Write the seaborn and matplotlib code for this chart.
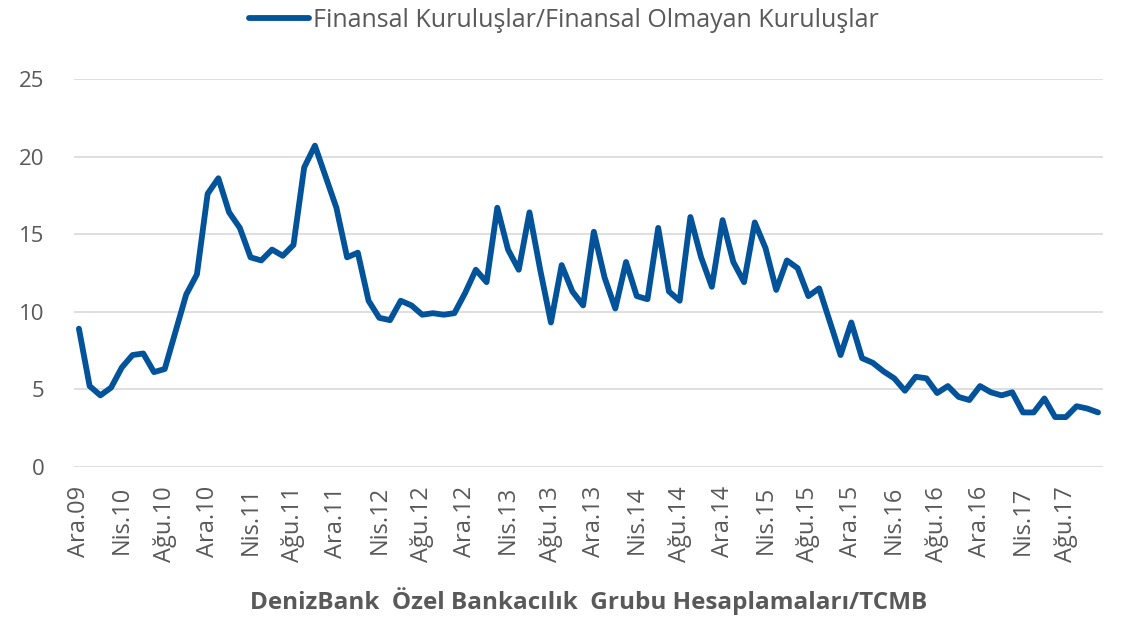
import pandas as pd
import matplotlib.pyplot as plt
import seaborn as sns

sns.set_style("white")
plt.rcParams['font.family'] = ['Open Sans', 'DejaVu Sans']

aylar = ['Oca', 'Şub', 'Mar', 'Nis', 'May', 'Haz', 'Tem', 'Ağu', 'Eyl', 'Eki', 'Kas', 'Ara']

# Aralık 2009 - Kasım 2017, aylık
donemler = ['Ara.09'] + [f'{a}.{y:02d}' for y in range(10, 18) for a in aylar][:95]

oran = [
    8.9, 5.2, 4.6, 5.1, 6.4, 7.2, 7.3, 6.1, 6.3, 8.7,
    11.1, 12.4, 17.6, 18.6, 16.4, 15.4, 13.5, 13.3, 14.0, 13.6,
    14.3, 19.3, 20.7, 18.7, 16.7, 13.5, 13.8, 10.7, 9.6, 9.45,
    10.7, 10.4, 9.8, 9.9, 9.8, 9.9, 11.2, 12.7, 11.9, 16.7,
    14.0, 12.7, 16.4, 12.7, 9.3, 13.0, 11.3, 10.4, 15.15, 12.2,
    10.2, 13.2, 11.0, 10.8, 15.4, 11.3, 10.7, 16.1, 13.5, 11.6,
    15.9, 13.2, 11.9, 15.75, 14.1, 11.4, 13.3, 12.8, 11.0, 11.5,
    9.35, 7.2, 9.3, 7.0, 6.7, 6.15, 5.7, 4.9, 5.8, 5.7,
    4.75, 5.2, 4.5, 4.3, 5.2, 4.8, 4.6, 4.8, 3.5, 3.5,
    4.4, 3.2, 3.2, 3.9, 3.75, 3.5,
]

seri_adi = 'Finansal Kuruluşlar/Finansal Olmayan Kuruluşlar'
df = pd.DataFrame({'Donem': range(len(oran)), 'Oran': oran})

gri = '#595959'
mavi = '#03539b'

fig = plt.figure(figsize=(11.28, 6.18), dpi=100)
ax = fig.add_axes([0.0652, 0.2448, 0.913, 0.6274])

sns.lineplot(data=df, x='Donem', y='Oran', ax=ax, color=mavi, linewidth=4.2,
             label=seri_adi, solid_joinstyle='round', solid_capstyle='round')

ax.set_xlim(-0.5, len(oran) - 0.5)
ax.set_ylim(0, 25)
ax.set_yticks(range(0, 26, 5))
ax.yaxis.grid(True, color='#d9d9d9', linewidth=1.2)
ax.xaxis.grid(False)
for s in ax.spines.values():
    s.set_visible(False)

idx = list(range(0, len(oran), 4))
ax.set_xticks(idx)
ax.set_xticklabels([donemler[i] for i in idx], rotation=90, fontsize=17, color=gri)
ax.tick_params(axis='y', labelsize=16, labelcolor=gri, length=0, pad=21)
ax.tick_params(axis='x', length=0, pad=14)

ax.set_xlabel('DenizBank  Özel Bankacılık  Grubu Hesaplamaları/TCMB',
              fontsize=17.5, fontweight='bold', color=gri, labelpad=18)
ax.set_ylabel('')

ax.get_legend().remove()
fig.legend(loc='upper center', bbox_to_anchor=(0.5, 1.024), frameon=False,
           fontsize=18, labelcolor=gri, handlelength=2.4, handletextpad=0.15)

plt.savefig('out.png', dpi=100)
